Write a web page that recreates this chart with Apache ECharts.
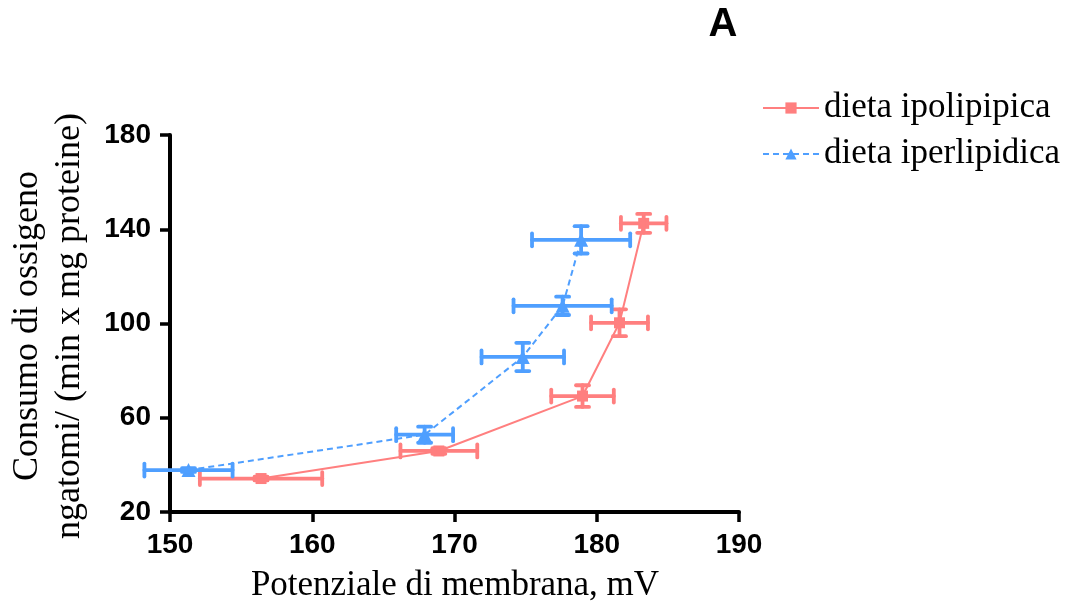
<!DOCTYPE html>
<html>
<head>
<meta charset="utf-8">
<script src="https://cdn.jsdelivr.net/npm/echarts@6/dist/echarts.min.js"></script>
<style>
  html, body { margin: 0; padding: 0; background: #fff; }
  #chart { width: 1066px; height: 607px; }
</style>
</head>
<body>
<div id="chart"></div>
<script>
// Membrane potential (mV) vs oxygen consumption, mean ± error on both axes
const seriesNames = ['dieta ipolipipica', 'dieta iperlipidica'];

const ipoX    = [156.4, 168.9, 179.0, 181.6, 183.3];
const ipoY    = [34.2, 45.9, 69.2, 100.3, 142.5];
const ipoXErr = [4.3, 2.7, 2.2, 2.0, 1.6];
const ipoYErr = [0.8, 1.2, 4.6, 5.7, 4.0];

const iperX    = [151.3, 167.9, 174.8, 177.6, 178.9];
const iperY    = [37.8, 52.8, 85.8, 107.5, 135.5];
const iperXErr = [3.1, 2.0, 2.9, 3.45, 3.45];
const iperYErr = [0.8, 3.4, 6.0, 3.9, 5.8];

const xTicks = [150, 160, 170, 180, 190];
const yTicks = [20, 60, 100, 140, 180];

const RED = '#FF7F7F';
const BLUE = '#4F9FFF';
const SERIF = '"Liberation Serif", "Times New Roman", serif';
const SANS = '"Liberation Sans", Arial, sans-serif';

const pts = (xs, ys) => xs.map((x, i) => [x, ys[i]]);
const errs = (xs, ys, ex, ey) => xs.map((x, i) => [x, ys[i], ex[i], ey[i]]);

function renderErrorBars(params, api) {
  const x = api.value(0), y = api.value(1), ex = api.value(2), ey = api.value(3);
  const l = api.coord([x - ex, y]), r = api.coord([x + ex, y]);
  const t = api.coord([x, y + ey]), b = api.coord([x, y - ey]);
  const cap = 6.5;
  const style = { stroke: api.visual('color'), lineWidth: 3.8, lineCap: 'round' };
  const seg = (x1, y1, x2, y2) => ({ type: 'line', shape: { x1, y1, x2, y2 }, style });
  return {
    type: 'group',
    children: [
      seg(l[0], l[1], r[0], r[1]),
      seg(l[0], l[1] - cap, l[0], l[1] + cap),
      seg(r[0], r[1] - cap, r[0], r[1] + cap),
      seg(t[0], t[1], b[0], b[1]),
      seg(t[0] - cap, t[1], t[0] + cap, t[1]),
      seg(b[0] - cap, b[1], b[0] + cap, b[1])
    ]
  };
}

const axisCommon = {
  type: 'value',
  axisLine: { show: true, lineStyle: { color: '#000', width: 4 } },
  axisTick: { show: true, length: 10, lineStyle: { color: '#000', width: 3.5 } },
  splitLine: { show: false },
  axisLabel: { color: '#000', fontFamily: SANS, fontWeight: 'bold', fontSize: 28 }
};

const chart = echarts.init(document.getElementById('chart'));
chart.setOption({
  animation: false,
  backgroundColor: '#fff',
  grid: { left: 170, right: 327, top: 135, bottom: 95 },
  xAxis: Object.assign({}, axisCommon, {
    min: xTicks[0], max: xTicks[xTicks.length - 1], interval: xTicks[1] - xTicks[0],
    axisLabel: Object.assign({}, axisCommon.axisLabel, { margin: 19 })
  }),
  yAxis: Object.assign({}, axisCommon, {
    min: yTicks[0], max: yTicks[yTicks.length - 1], interval: yTicks[1] - yTicks[0],
    axisLabel: Object.assign({}, axisCommon.axisLabel, { margin: 19 })
  }),
  legend: {
    data: seriesNames,
    orient: 'vertical',
    left: 762,
    top: 90,
    padding: 0,
    itemWidth: 56,
    itemHeight: 14,
    itemGap: 10,
    textStyle: { fontFamily: SERIF, fontSize: 35, lineHeight: 36, color: '#000' }
  },
  graphic: [
    { type: 'text', x: 723, y: 25, style: { text: 'A', font: 'bold 40px ' + SANS, fill: '#000', align: 'center', verticalAlign: 'middle' } },
    { type: 'text', x: 455, y: 586, style: { text: 'Potenziale di membrana, mV', font: '35px ' + SERIF, fill: '#000', align: 'center', verticalAlign: 'middle' } },
    { type: 'text', x: 28, y: 326, rotation: Math.PI / 2, style: { text: 'Consumo di ossigeno', font: '36px ' + SERIF, fill: '#000', align: 'center', verticalAlign: 'middle' } },
    { type: 'text', x: 70, y: 326, rotation: Math.PI / 2, style: { text: 'ngatomi/ (min x mg proteine)', font: '36px ' + SERIF, fill: '#000', align: 'center', verticalAlign: 'middle' } }
  ],
  series: [
    {
      name: seriesNames[0],
      type: 'line',
      data: pts(ipoX, ipoY),
      color: RED,
      symbol: 'rect',
      symbolSize: 11,
      lineStyle: { color: RED, width: 2 },
      itemStyle: { color: RED },
      z: 3
    },
    {
      name: seriesNames[1],
      type: 'line',
      data: pts(iperX, iperY),
      color: BLUE,
      symbol: 'triangle',
      symbolSize: 14,
      lineStyle: { color: BLUE, width: 2, type: [6, 4] },
      itemStyle: { color: BLUE },
      z: 3
    },
    {
      name: 'err-ipo',
      type: 'custom',
      renderItem: renderErrorBars,
      data: errs(ipoX, ipoY, ipoXErr, ipoYErr),
      itemStyle: { color: RED },
      clip: false,
      silent: true,
      z: 4
    },
    {
      name: 'err-iper',
      type: 'custom',
      renderItem: renderErrorBars,
      data: errs(iperX, iperY, iperXErr, iperYErr),
      itemStyle: { color: BLUE },
      clip: false,
      silent: true,
      z: 4
    }
  ]
});
</script>
</body>
</html>
